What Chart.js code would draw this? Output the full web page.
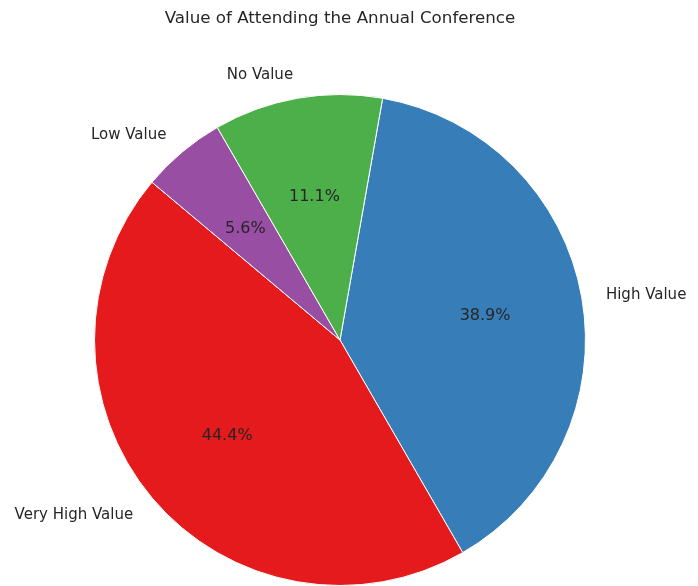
<!DOCTYPE html>
<html>
<head>
<meta charset="utf-8">
<title>Value of Attending the Annual Conference</title>
<script src="https://cdn.jsdelivr.net/npm/chart.js@4/dist/chart.umd.min.js"></script>
<style>
  html, body { margin: 0; padding: 0; background: #fff; }
  #wrap { width: 698px; height: 586px; }
</style>
</head>
<body>
<div id="wrap"><canvas id="pieChart" width="698" height="586"></canvas></div>
<script>
// Survey answers, in clockwise order from the top
const labels = ['High Value', 'Very High Value', 'Low Value', 'No Value'];
const counts = [7, 8, 1, 2];
const colors = ['#377eb8', '#e41a1c', '#984ea3', '#4daf4a'];

const textColor = '#262626';
const fontFamily = '"DejaVu Sans", sans-serif';

// Draws category names outside the pie and percentages inside each slice
const sliceLabels = {
  id: 'sliceLabels',
  afterDatasetsDraw(chart) {
    const ctx = chart.ctx;
    const meta = chart.getDatasetMeta(0);
    const total = counts.reduce((a, b) => a + b, 0);
    ctx.save();
    ctx.fillStyle = textColor;
    ctx.textBaseline = 'middle';
    meta.data.forEach((arc, i) => {
      const mid = (arc.startAngle + arc.endAngle) / 2;
      const r = arc.outerRadius;
      const cos = Math.cos(mid), sin = Math.sin(mid);

      // percentage at 0.6 of the radius
      ctx.font = '16px ' + fontFamily;
      ctx.textAlign = 'center';
      const pct = (counts[i] / total * 100).toFixed(1) + '%';
      ctx.fillText(pct, arc.x + cos * r * 0.6, arc.y + sin * r * 0.6 + 1.5);

      // category name at 1.1 of the radius
      ctx.font = '15px ' + fontFamily;
      const lx = arc.x + cos * r * 1.1;
      const ly = arc.y + sin * r * 1.1 + 1.5;
      ctx.textAlign = cos < 0 ? 'right' : 'left';
      ctx.fillText(labels[i], lx, ly);
    });
    ctx.restore();
  }
};

const ctx = document.getElementById('pieChart').getContext('2d');
const pieChart = new Chart(ctx, {
  type: 'pie',
  data: {
    labels: labels,
    datasets: [{
      data: counts,
      backgroundColor: colors,
      borderColor: '#ffffff',
      borderWidth: 1
    }]
  },
  options: {
    responsive: false,
    animation: false,
    rotation: 10,
    layout: {
      padding: { left: 93.5, right: 111.5, top: 0, bottom: 0 }
    },
    plugins: {
      legend: { display: false },
      tooltip: { enabled: false },
      title: {
        display: true,
        text: 'Value of Attending the Annual Conference',
        color: textColor,
        font: { family: fontFamily, size: 16.7, weight: 'normal' },
        padding: { top: 9, bottom: 65 }
      }
    }
  },
  plugins: [sliceLabels]
});
</script>
</body>
</html>
